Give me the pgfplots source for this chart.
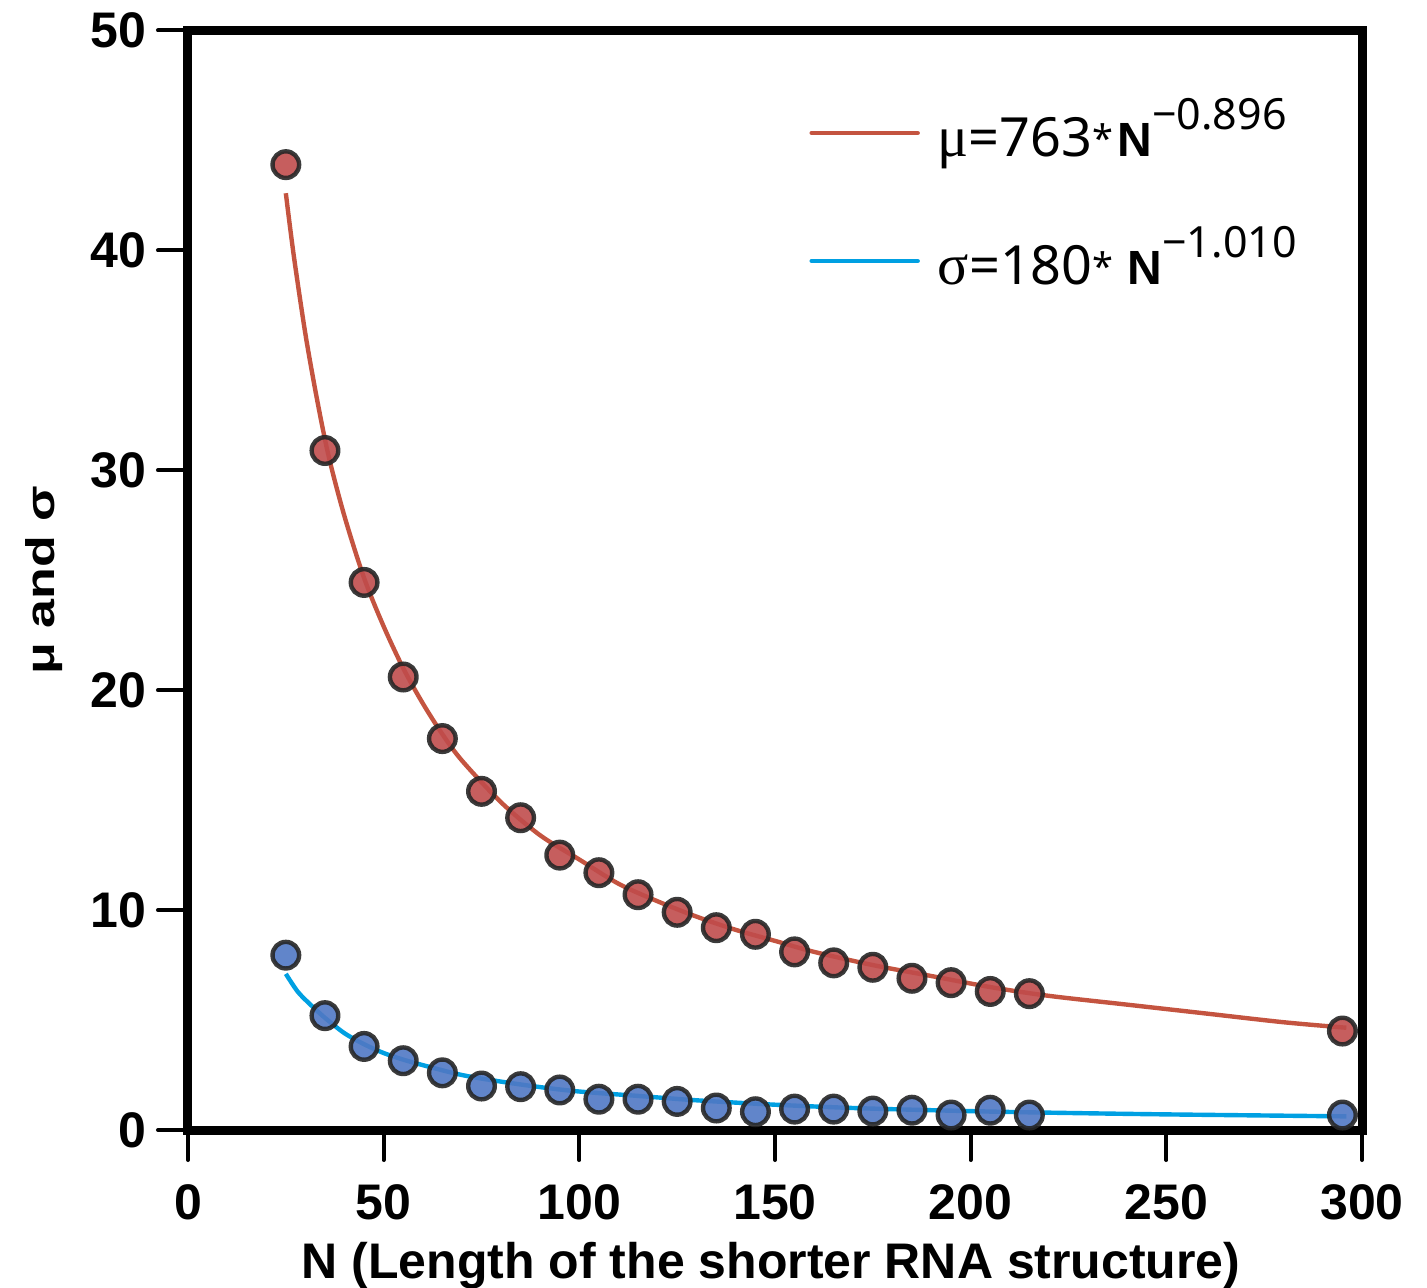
\documentclass[border=0pt]{standalone}
\usepackage{fontspec}
\usepackage{graphicx}
\usepackage{pgfplots}
\pgfplotsset{compat=1.18}
\setmainfont{Liberation Sans}
\newfontfamily\legfont{Noto Sans}
\newfontfamily\grkfont{Liberation Serif}
\definecolor{fitred}{RGB}{196,84,64}
\definecolor{fitblue}{RGB}{0,160,226}
\definecolor{dotred}{RGB}{192,76,76}
\definecolor{dotblue}{RGB}{80,120,196}
\newcommand{\myast}{\raisebox{2pt}{\fontsize{19}{19}\selectfont*}}
\newcommand{\supr}[1]{\raisebox{13.5pt}{\fontsize{21.5}{22}\selectfont #1}}
\newcommand{\NN}{{\rmfamily\bfseries\fontsize{24}{24}\selectfont N}}
\begin{document}
\begin{tikzpicture}
\useasboundingbox (-94pt,-79pt) rectangle (619.5pt,565pt);
\begin{axis}[
  at={(0,0)}, anchor=south west,
  scale only axis, width=587pt, height=549.75pt,
  xmin=0, xmax=300, ymin=0, ymax=50,
  xtick={0,50,...,300}, ytick={0,10,...,50},
  minor tick num=0,
  tick align=outside, xtick pos=bottom, ytick pos=left,
  major tick length=15pt,
  tick style={line width=2pt, black, line cap=round},
  axis line style={line width=4.5pt, black},
  axis on top,
  clip=false,
  ticklabel style={font=\fontsize{25}{25}\selectfont\bfseries},
  xticklabel style={yshift=-9pt},
  yticklabel style={xshift=-2.5pt},
  /pgf/number format/assume math mode=true,
  xlabel={N (Length of the shorter RNA structure)},
  xlabel style={font=\fontsize{25}{25}\selectfont\bfseries, at={(axis description cs:0.4966,-0.1355)}, anchor=base},
  ylabel={\scalebox{1.3}[1]{μ and σ}},
  ylabel style={font=\fontsize{20}{20}\selectfont\bfseries, at={(axis description cs:-0.1227,0.5)}, anchor=center},
  legend cell align=left,
  legend image code/.code={\draw[#1, line width=2.2pt, line cap=round] (0pt,0pt) -- (53pt,0pt);},
  legend style={at={(axis description cs:0.529,0.8486)}, anchor=west, draw=none, fill=none, inner sep=0pt,
    row sep=36pt, font=\legfont\fontsize{27}{27}\selectfont,
    nodes={inner sep=0pt, text height=20pt, text depth=8pt},
    /tikz/every odd column/.append style={column sep=9pt}},
]
\addplot[fitred, line width=2.2pt, smooth] coordinates {
(25,42.6) (27,39.8) (30,36.2) (33,33.2) (36,30.6) (40,27.9) (45,25.1) (50,22.9)
(55,21.0) (60,19.4) (65,18.0) (70,16.8) (80,14.9) (90,13.4) (100,12.3) (110,11.2)
(120,10.4) (130,9.7) (140,9.1) (150,8.6) (160,8.1) (175,7.5) (190,7.0) (205,6.5)
(220,6.1) (240,5.7) (260,5.3) (280,4.9) (296,4.65)};
\addlegendentry{\raisebox{-6pt}{{\grkfont\fontsize{29}{29}\selectfont μ}=763\myast\hspace{2pt}\NN\supr{−0.896}}}
\addplot[fitblue, line width=2.2pt, smooth] coordinates {
(25,7.1) (28,6.3) (31,5.75) (35,5.1) (40,4.4) (45,3.9) (50,3.5) (55,3.2) (60,2.95)
(70,2.5) (80,2.2) (90,1.95) (100,1.75) (115,1.55) (130,1.35) (150,1.15) (170,1.0)
(190,0.9) (210,0.82) (230,0.76) (250,0.71) (275,0.66) (296,0.62)};
\addlegendentry{\raisebox{-6pt}{{\grkfont\fontsize{29}{29}\selectfont σ}=180\myast\ \NN\supr{−1.010}}}
\addplot[forget plot, only marks, mark=*, mark size=6.65pt,
  mark options={draw=black!85, line width=2.2pt, fill=dotred, fill opacity=0.9, draw opacity=0.9}]
coordinates {
(25,43.9) (35,30.9) (45,24.9) (55,20.6) (65,17.8) (75,15.4) (85,14.2) (95,12.5)
(105,11.7) (115,10.7) (125,9.9) (135,9.2) (145,8.9) (155,8.1) (165,7.6) (175,7.4)
(185,6.9) (195,6.7) (205,6.3) (215,6.2) (295,4.5)};
\addplot[forget plot, only marks, mark=*, mark size=6.65pt,
  mark options={draw=black!85, line width=2.2pt, fill=dotblue, fill opacity=0.9, draw opacity=0.9}]
coordinates {
(25,7.95) (35,5.2) (45,3.8) (55,3.15) (65,2.6) (75,2.0) (85,1.97) (95,1.82)
(105,1.4) (115,1.4) (125,1.3) (135,1.0) (145,0.83) (155,0.95) (165,0.95) (175,0.86)
(185,0.9) (195,0.68) (205,0.9) (215,0.68) (295,0.68)};
\end{axis}
\end{tikzpicture}
\end{document}
